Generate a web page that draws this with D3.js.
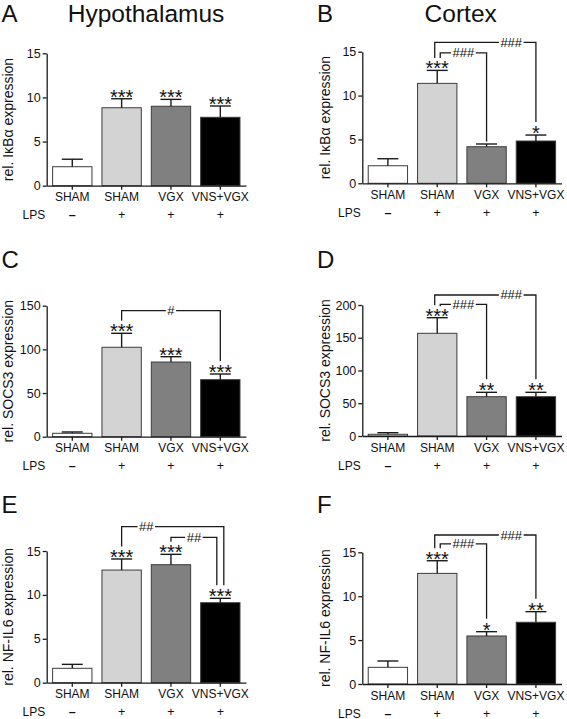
<!DOCTYPE html>
<html><head><meta charset="utf-8">
<script src="https://cdn.jsdelivr.net/npm/d3@7"></script>
<style>
body{margin:0;background:#fff}
svg{display:block}
text{font-family:"Liberation Sans", Arial, Helvetica, sans-serif;fill:#111}
</style>
</head><body>
<svg id="chart" width="567" height="719"></svg>
<script>
// ---------------- data ----------------
const categories = ["SHAM", "SHAM", "VGX", "VNS+VGX"];
const lpsLabel = "LPS";
const lpsSigns = ["\u2013", "+", "+", "+"];
const columnTitles = ["Hypothalamus", "Cortex"];
const panelLetters = ["A", "B", "C", "D", "E", "F"];
const yLabels = ["rel. I\u03baB\u03b1 expression", "rel. I\u03baB\u03b1 expression",
                 "rel. SOCS3 expression", "rel. SOCS3 expression",
                 "rel. NF-IL6 expression", "rel. NF-IL6 expression"];
const yMax = [15, 15, 150, 200, 15, 15];
const yTicks = [[0, 5, 10, 15], [0, 5, 10, 15], [0, 50, 100, 150],
                [0, 50, 100, 150, 200], [0, 5, 10, 15], [0, 5, 10, 15]];

const ikbaHypMean = [2.15, 8.83, 9.0, 7.75];
const ikbaHypSem  = [0.85, 1.02, 0.78, 1.28];
const ikbaCtxMean = [2.0, 11.39, 4.17, 4.82];
const ikbaCtxSem  = [0.8, 1.48, 0.31, 0.68];
const socsHypMean = [3.9, 102.4, 85.5, 65.3];
const socsHypSem  = [1.5, 16.0, 6.1, 6.5];
const socsCtxMean = [2.6, 156.8, 60.0, 60.0];
const socsCtxSem  = [2.4, 23.8, 6.7, 6.7];
const nfHypMean   = [1.64, 12.83, 13.44, 9.11];
const nfHypSem    = [0.45, 1.26, 1.18, 0.5];
const nfCtxMean   = [1.9, 12.6, 5.47, 7.03];
const nfCtxSem    = [0.72, 1.44, 0.49, 1.21];

const starsA = ["", "***", "***", "***"];
const starsB = ["", "***", "", "*"];
const starsC = ["", "***", "***", "***"];
const starsD = ["", "***", "**", "**"];
const starsE = ["", "***", "***", "***"];
const starsF = ["", "***", "*", "**"];

// comparisons: from bar, to bar, label, bracket height (data units), label segment
const bracketsA = [];
const bracketsB = [{from:1, to:3, label:"###", level:16.06, span:[2,3]},
                   {from:1, to:2, label:"###", level:14.87}];
const bracketsC = [{from:1, to:3, label:"#", level:144.3}];
const bracketsD = [{from:1, to:3, label:"###", level:215.3, span:[2,3]},
                   {from:1, to:2, label:"###", level:201}];
const bracketsE = [{from:1, to:3, label:"##", level:17.77, span:[1,2]},
                   {from:2, to:3, label:"##", level:16.56}];
const bracketsF = [{from:1, to:3, label:"###", level:16.97, span:[2,3]},
                   {from:1, to:2, label:"###", level:15.95}];

// ---------------- layout / style ----------------
const barFills = ["#ffffff", "#d3d3d3", "#808080", "#000000"];
const colAxisX = [46.7, 362.3];
const axisLen = 199.2;
const rowY = [[53.3, 185.7], [51.7, 183.3], [305.7, 436.7], [305, 436], [551, 682.7], [552.3, 684]];
const letterPos = [[1.5, 22], [317, 22], [1.5, 268], [317, 268], [1.5, 513], [317, 513]];
const ylabelX = [12.5, 330];
const titlePos = [[146, 22], [460.7, 22]];

const panels = [
  {mean: ikbaHypMean, sem: ikbaHypSem, stars: starsA, brackets: bracketsA},
  {mean: ikbaCtxMean, sem: ikbaCtxSem, stars: starsB, brackets: bracketsB},
  {mean: socsHypMean, sem: socsHypSem, stars: starsC, brackets: bracketsC},
  {mean: socsCtxMean, sem: socsCtxSem, stars: starsD, brackets: bracketsD},
  {mean: nfHypMean, sem: nfHypSem, stars: starsE, brackets: bracketsE},
  {mean: nfCtxMean, sem: nfCtxSem, stars: starsF, brackets: bracketsF}
];

const svg = d3.select("#chart");
const ink = "#1a1a1a";

// column titles
columnTitles.forEach((t, i) => {
  svg.append("text").attr("x", titlePos[i][0]).attr("y", titlePos[i][1])
    .attr("text-anchor", "middle").style("font-size", "24.5px").text(t);
});

panels.forEach((p, pi) => {
  const col = pi % 2;
  const ax = colAxisX[col];
  const [yTop, y0] = rowY[pi];
  const g = svg.append("g");

  g.append("text").attr("x", letterPos[pi][0]).attr("y", letterPos[pi][1])
    .style("font-size", "24px").text(panelLetters[pi]);

  const x = d3.scaleBand().domain(d3.range(categories.length))
    .range([ax, ax + axisLen]).paddingInner(0.203).paddingOuter(0.12);
  const y = d3.scaleLinear().domain([0, yMax[pi]]).range([y0, yTop]);
  const xc = i => x(i) + x.bandwidth() / 2;

  // bars
  g.selectAll("rect.bar").data(p.mean).join("rect").attr("class", "bar")
    .attr("x", (d, i) => x(i)).attr("width", x.bandwidth())
    .attr("y", d => y(d)).attr("height", d => y0 - y(d))
    .attr("fill", (d, i) => barFills[i]).attr("stroke", "#3c3c3c").attr("stroke-width", 1);

  // error bars (upper only)
  const capW = 21;
  p.mean.forEach((m, i) => {
    const top = y(m + p.sem[i]);
    g.append("line").attr("x1", xc(i)).attr("x2", xc(i)).attr("y1", y(m)).attr("y2", top)
      .attr("stroke", ink).attr("stroke-width", 1.4);
    g.append("line").attr("x1", xc(i) - capW / 2).attr("x2", xc(i) + capW / 2)
      .attr("y1", top).attr("y2", top).attr("stroke", ink).attr("stroke-width", 1.4);
    if (p.stars[i]) {
      g.append("text").attr("x", xc(i)).attr("y", top + 5)
        .attr("text-anchor", "middle").style("font-size", "20px").text(p.stars[i]);
    }
  });

  // axes
  const yAxis = d3.axisLeft(y).tickValues(yTicks[pi]).tickSize(4).tickSizeOuter(0).tickPadding(2);
  const ya = g.append("g").attr("transform", `translate(${ax},0)`).call(yAxis);
  ya.selectAll("path,line").attr("stroke", ink).attr("stroke-width", 1.3);
  ya.selectAll("text").style("font-size", "12.5px").style("font-family", "Liberation Sans, Arial, sans-serif").attr("fill", "#111");

  const xAxis = d3.axisBottom(x).tickSize(4).tickSizeOuter(0).tickFormat("");
  const xa = g.append("g").attr("transform", `translate(0,${y0})`).call(xAxis);
  xa.selectAll("path,line").attr("stroke", ink).attr("stroke-width", 1.3);

  // category labels and LPS row
  categories.forEach((c, i) => {
    g.append("text").attr("x", xc(i)).attr("y", y0 + 15.5).attr("text-anchor", "middle")
      .style("font-size", "12px").text(c);
    g.append("text").attr("x", xc(i)).attr("y", y0 + 33.5).attr("text-anchor", "middle")
      .style("font-size", "12.5px").style("font-weight", i === 0 ? "bold" : "normal").text(lpsSigns[i]);
  });
  g.append("text").attr("x", ax - 1.5).attr("y", y0 + 33.5).attr("text-anchor", "end")
    .style("font-size", "12px").text(lpsLabel);

  // y label
  g.append("text").attr("transform", `translate(${ylabelX[col]},${(y0 + yTop) / 2}) rotate(-90)`)
    .attr("text-anchor", "middle").style("font-size", "14px").text(yLabels[pi]);

  // significance brackets
  const errTop = i => y(p.mean[i] + p.sem[i]);
  p.brackets.forEach(b => {
    const yb = y(b.level);
    let x1 = xc(b.from), x2 = xc(b.to);
    p.brackets.forEach(o => {
      if (o === b) return;
      if (o.from === b.from) x1 += (b.level > o.level) ? -2.5 : 3;
      if (o.to === b.to) x2 += (b.level > o.level) ? 3.5 : -3.5;
    });
    const leftEnd = Math.max(yb + 2, errTop(b.from) - (p.stars[b.from] ? 12.5 : 3));
    const rightEnd = errTop(b.to) - (p.stars[b.to] ? 13 : 2.5);
    const lx = b.span ? (xc(b.span[0]) + xc(b.span[1])) / 2 : (x1 + x2) / 2;
    const t = g.append("text").attr("x", lx).attr("y", yb + 4.5).attr("text-anchor", "middle")
      .style("font-size", "13px").text(b.label);
    const w = t.node().getComputedTextLength();
    const gh = w / 2 + 1.5;
    g.append("path")
      .attr("d", `M${x1},${leftEnd}V${yb}H${lx - gh}M${lx + gh},${yb}H${x2}V${rightEnd}`)
      .attr("fill", "none").attr("stroke", ink).attr("stroke-width", 1.3);
  });
});
</script>
</body></html>
